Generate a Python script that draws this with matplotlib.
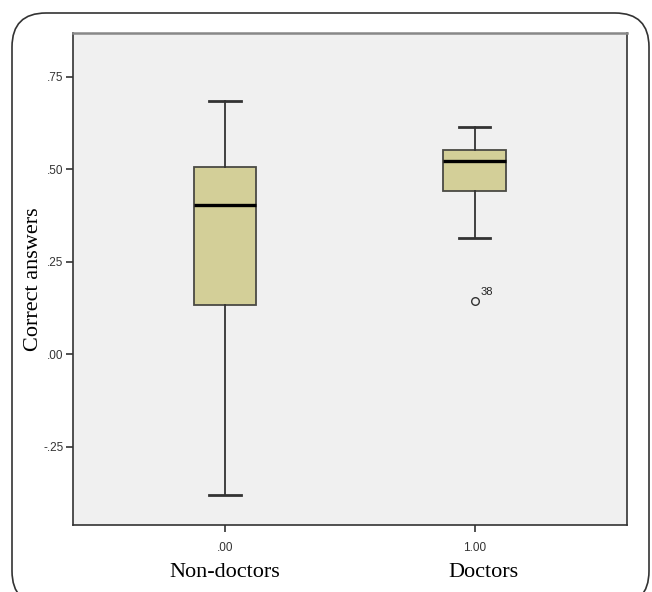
import matplotlib.pyplot as plt
from matplotlib.patches import FancyBboxPatch
from matplotlib.transforms import IdentityTransform

groups = ['Non-doctors', 'Doctors']
positions = [0, 1]
tick_labels = ['.00', '1.00']
whislo = [-0.38, 0.314]
q1 = [0.133, 0.441]
med = [0.403, 0.521]
q3 = [0.507, 0.552]
whishi = [0.685, 0.615]
outliers = [[], [0.145]]
outlier_ids = [[], ['38']]

yticks = [-0.25, 0.0, 0.25, 0.5, 0.75]
ytick_labels = ['-.25', '.00', '.25', '.50', '.75']

fig = plt.figure(figsize=(6.52, 5.92), dpi=100)
ax = fig.add_axes([0.112, 0.1132, 0.8497, 0.8311])
ax.set_facecolor('#f0f0f0')

stats = []
for i in range(len(groups)):
    stats.append({'whislo': whislo[i], 'q1': q1[i], 'med': med[i],
                  'q3': q3[i], 'whishi': whishi[i], 'fliers': outliers[i]})

ax.bxp(stats, positions=positions, widths=0.25, patch_artist=True,
       boxprops=dict(facecolor='#d3cf98', edgecolor='#4a4a44', linewidth=1.3),
       medianprops=dict(color='black', linewidth=2.4),
       whiskerprops=dict(color='#333333', linewidth=1.3),
       capprops=dict(color='#333333', linewidth=2.0),
       capwidths=0.125,
       flierprops=dict(marker='o', markersize=5.5, markerfacecolor='none',
                       markeredgecolor='#333333', markeredgewidth=1.0))

for i, ids in enumerate(outlier_ids):
    for v, lab in zip(outliers[i], ids):
        ax.annotate(lab, (positions[i], v), xytext=(4, 4), textcoords='offset points',
                    fontsize=8, color='#222222', family='Liberation Sans')

ax.set_xlim(-0.609, 1.611)
ax.set_ylim(-0.461, 0.868)
ax.set_yticks(yticks)
ax.set_yticklabels(ytick_labels)
ax.set_xticks(positions)
ax.set_xticklabels(tick_labels)
ax.tick_params(labelsize=8.5, labelcolor='#333333', length=5, width=1.2,
               color='#333333', pad=2)
for lab in ax.get_xticklabels() + ax.get_yticklabels():
    lab.set_family('Liberation Sans')
ax.tick_params(axis='x', pad=7)
for s in ax.spines.values():
    s.set_color('#333333')
    s.set_linewidth(1.2)
ax.spines['top'].set_color('#888888')
ax.spines['top'].set_linewidth(1.8)

for p, g in zip(positions, groups):
    ax.text(p + (0.035 if p else 0), -0.588, g, ha='center', va='center', fontsize=16,
            family='Liberation Serif', color='black')
ax.set_ylabel('Correct answers', fontsize=16, family='Liberation Serif', labelpad=0)

frame = FancyBboxPatch((12, -13), 637, 592, boxstyle='round,pad=0,rounding_size=34',
                       transform=IdentityTransform(), facecolor='none',
                       edgecolor='#333333', linewidth=1.2, clip_on=False)
fig.patches.append(frame)

fig.savefig('out.png', dpi=100)
